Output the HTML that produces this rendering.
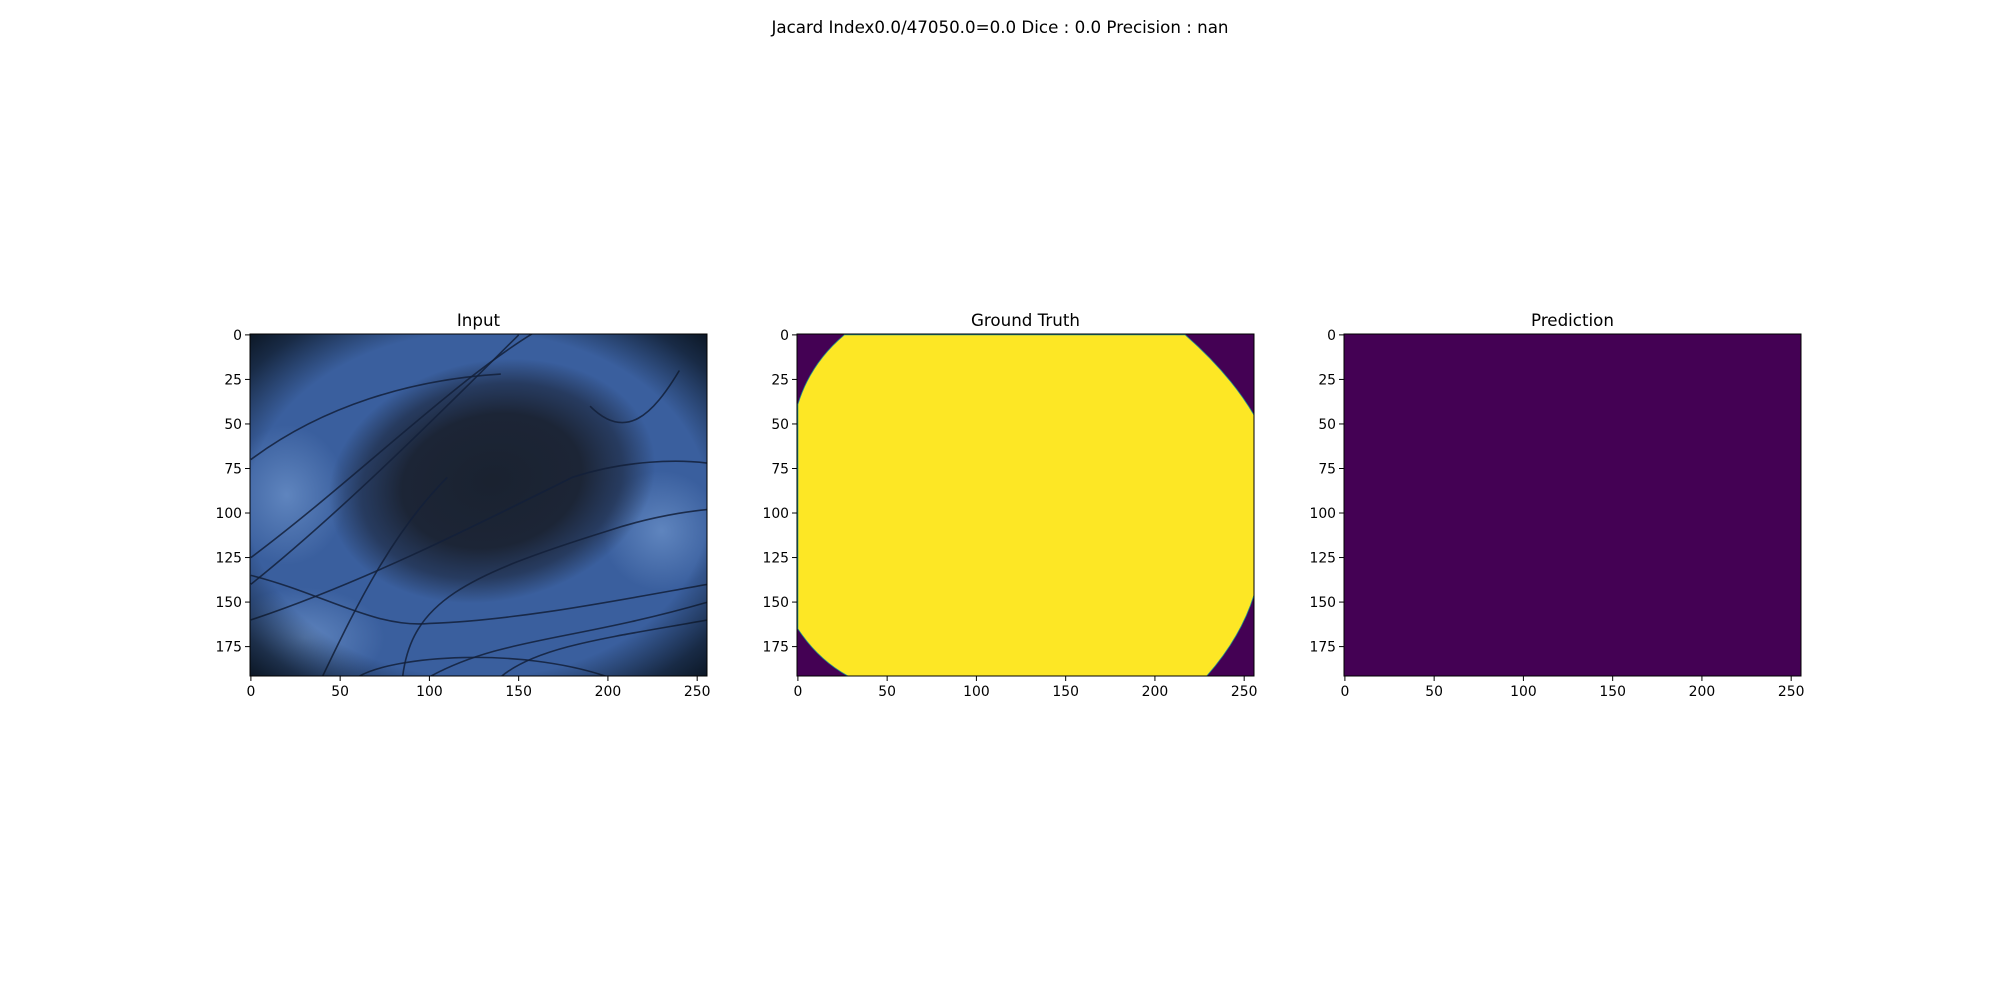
<!DOCTYPE html>
<html><head><meta charset="utf-8"><style>
html,body{margin:0;padding:0;background:#fff;}
svg{display:block;font-family:"DejaVu Sans","Liberation Sans",sans-serif;}
</style></head><body>
<svg id="fig" width="2000" height="1000" viewBox="0 0 2000 1000" xmlns="http://www.w3.org/2000/svg">
<defs>
<radialGradient id="lesion" cx="0.5" cy="0.5" r="0.5">
<stop offset="0" stop-color="#1a2230"/><stop offset="0.55" stop-color="#1c2536"/><stop offset="0.8" stop-color="#1f2c45" stop-opacity="0.7"/><stop offset="1" stop-color="#1f2c45" stop-opacity="0"/>
</radialGradient>
<radialGradient id="vign" cx="0.5" cy="0.5" r="0.72">
<stop offset="0.7" stop-color="#0a1420" stop-opacity="0"/><stop offset="0.88" stop-color="#0a1420" stop-opacity="0.7"/><stop offset="1" stop-color="#0a1420" stop-opacity="1"/>
</radialGradient>
<radialGradient id="light" cx="0.5" cy="0.5" r="0.5">
<stop offset="0" stop-color="#6f95cc" stop-opacity="0.7"/><stop offset="1" stop-color="#6f95cc" stop-opacity="0"/>
</radialGradient>
<clipPath id="clip0"><rect x="250" y="334" width="457" height="342"/></clipPath>
</defs>
<text x="1000" y="33" text-anchor="middle" font-size="16.7" fill="#000">Jacard Index0.0/47050.0=0.0 Dice : 0.0 Precision : nan</text>
</svg>
<script>
const xTicks=[0,50,100,150,200,250];
const yTicks=[0,25,50,75,100,125,150,175];
const imgW=256, imgH=192;
const panelTitles=["Input","Ground Truth","Prediction"];
const gtBoundary=[[26,0],[217,0],[242,22],[255.5,45],[255.5,146],[248,170],[229,191.5],[28,191.5],[11,182],[0,165],[0,39],[7,16]];
const predValue=0;
const NS="http://www.w3.org/2000/svg";
const svg=document.getElementById('fig');
const AX={top:334,h:342,w:457,lefts:[250,797,1344]};
function el(tag,attrs,parent){const e=document.createElementNS(NS,tag);for(const k in attrs)e.setAttribute(k,attrs[k]);(parent||svg).appendChild(e);return e;}
function sx(i,v){return AX.lefts[i]+(v+0.5)/imgW*AX.w;}
function sy(v){return AX.top+(v+0.5)/imgH*AX.h;}
for(let i=0;i<3;i++){
  const L=AX.lefts[i];
  const g=el('g',{});
  
  
  if(i===0){
    const ig=el('g',{'clip-path':'url(#clip0)'},g);
    
    
    el('rect',{x:L,y:AX.top,width:AX.w,height:AX.h,fill:'#3a5f9e'},ig);
    el('ellipse',{cx:sx(0,30),cy:sy(170),rx:80,ry:50,fill:'url(#light)'},ig);
    el('ellipse',{cx:sx(0,20),cy:sy(90),rx:60,ry:70,fill:'url(#light)'},ig);
    el('ellipse',{cx:sx(0,230),cy:sy(110),rx:60,ry:60,fill:'url(#light)'},ig);
    el('ellipse',{cx:sx(0,135),cy:sy(82),rx:165,ry:120,fill:'url(#lesion)',transform:`rotate(-12 ${sx(0,135)} ${sy(82)})`},ig);
    const hairs=["M0,70 C40,40 90,25 140,22","M0,125 C60,80 120,20 165,-5","M0,140 C50,100 110,40 150,0","M0,135 C40,145 70,165 100,162 C150,160 200,150 256,140","M0,160 C60,140 120,110 180,80 C210,70 240,70 256,72","M40,192 C60,150 80,110 110,80","M85,192 C90,150 120,135 200,110 C230,100 256,98 256,98","M100,192 C140,170 180,172 256,150","M140,192 C160,175 200,170 256,160","M190,40 C210,60 225,45 240,20","M60,192 C80,180 150,175 200,192"];
    hairs.forEach((d,k)=>{
      const p=el('path',{d:d,fill:'none',stroke:'#13203a','stroke-width':0.9,opacity:0.85,transform:`translate(${L+0.5*AX.w/imgW},${AX.top+0.5*AX.h/imgH}) scale(${AX.w/imgW},${AX.h/imgH})`},ig);
      
      
    });
    el('rect',{x:L,y:AX.top,width:AX.w,height:AX.h,fill:'url(#vign)'},ig);
  } else if(i===1){
    const bg=el('rect',{x:L,y:AX.top,width:AX.w,height:AX.h,fill:'#440154'},g);
    
    
    const pts=gtBoundary.map(p=>[sx(1,Math.min(Math.max(p[0],-0.5),255.5)),sy(Math.min(Math.max(p[1],-0.5),191.5))]);
    let d='M'+pts[0].join(',')+' L'+pts[1].join(',');
    d+=' Q'+pts[2].join(',')+' '+pts[3].join(',')+' L'+pts[4].join(',')+' Q'+pts[5].join(',')+' '+pts[6].join(',')+' L'+pts[7].join(',')+' Q'+pts[8].join(',')+' '+pts[9].join(',')+' L'+pts[10].join(',')+' Q'+pts[11].join(',')+' '+pts[0].join(',')+' Z';
    const m=el('path',{d:d,fill:'#fde725',stroke:'#21918c','stroke-width':0.8},g);
    
    
  } else {
    const r=el('rect',{x:L,y:AX.top,width:AX.w,height:AX.h,fill:predValue===0?'#440154':'#fde725'},g);
    
    
  }
  el('rect',{x:L,y:AX.top,width:AX.w,height:AX.h,fill:'none',stroke:'#000','stroke-width':1},g);
  const t=el('text',{x:L+AX.w/2,y:AX.top-8,'text-anchor':'middle','font-size':16.7},g);
  t.textContent=panelTitles[i];
  
  
  xTicks.forEach(v=>{
    const x=sx(i,v);
    el('line',{x1:x,x2:x,y1:AX.top+AX.h,y2:AX.top+AX.h+5,stroke:'#000','stroke-width':1},g);
    const tx=el('text',{x:x,y:AX.top+AX.h+20,'text-anchor':'middle','font-size':13.9},g);
    tx.textContent=v;
    
    
  });
  yTicks.forEach(v=>{
    const y=sy(v);
    el('line',{x1:L,x2:L-5,y1:y,y2:y,stroke:'#000','stroke-width':1},g);
    const ty=el('text',{x:L-8,y:y+5,'text-anchor':'end','font-size':13.9},g);
    ty.textContent=v;
    
    
  });
}
</script>
</body></html>
